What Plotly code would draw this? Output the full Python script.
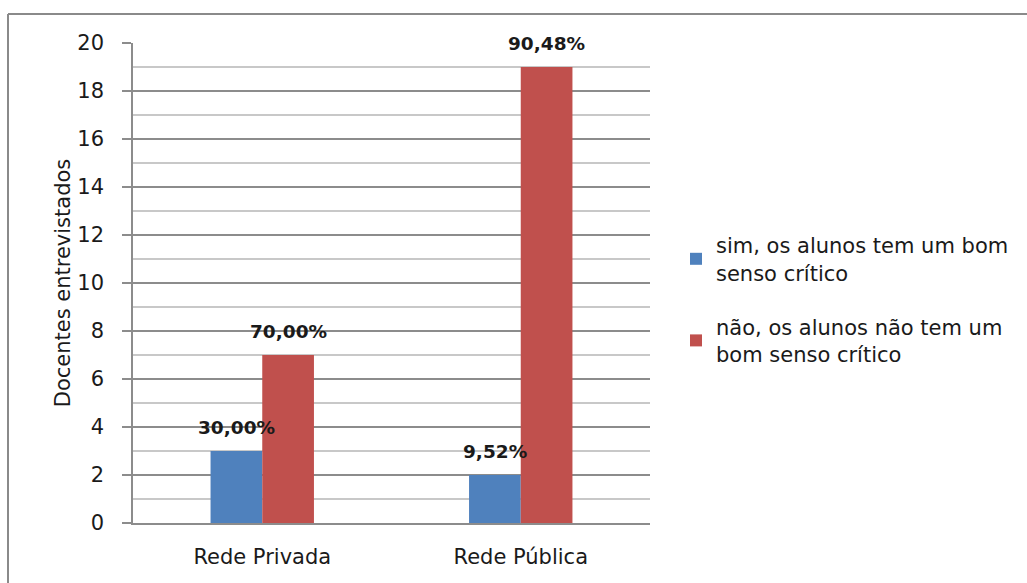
import plotly.graph_objects as go

# Survey of teachers: do students have good critical sense?
categories = ["Rede Privada", "Rede Pública"]
series_names = [
    "sim, os alunos tem um bom<br>senso crítico",
    "não, os alunos não tem um<br>bom senso crítico",
]
sim_values = [3, 2]
nao_values = [7, 19]
sim_labels = ["30,00%", "9,52%"]
nao_labels = ["70,00%", "90,48%"]
y_ticks = [0, 2, 4, 6, 8, 10, 12, 14, 16, 18, 20]

BLUE = "#4F81BD"
RED = "#C0504D"
FONT = "'DejaVu Sans', Verdana, sans-serif"
TEXT = "#1a1a1a"

# plot-area geometry in pixels (used for the frame around the chart)
W, H = 1027, 583
L, R, T, B = 133, 650, 43, 523
pw, ph = R - L, B - T


def px_x(px):
    return (px - L) / pw


def px_y(py):
    return (B - py) / ph


fig = go.Figure()
fig.add_trace(go.Bar(x=categories, y=sim_values, name=series_names[0],
                     legendgroup="sim",
                     marker=dict(color=BLUE, line=dict(width=0))))
fig.add_trace(go.Bar(x=categories, y=nao_values, name=series_names[1],
                     legendgroup="nao",
                     marker=dict(color=RED, line=dict(width=0))))

# percentage labels centred above each bar
annotations = []
cat_px = pw / len(categories)
for vals, labs, side in ((sim_values, sim_labels, -1), (nao_values, nao_labels, 1)):
    for c, v, t in zip(categories, vals, labs):
        annotations.append(dict(
            x=c, y=v, text=f"<b>{t}</b>", showarrow=False,
            xshift=side * 0.1 * cat_px, yshift=24,
            yanchor="middle", xanchor="center",
            font=dict(family=FONT, size=18.5, color=TEXT),
        ))

# outer frame: top and left edges
shapes = [
    dict(type="line", xref="paper", yref="paper",
         x0=px_x(8), x1=px_x(W + 5), y0=px_y(14), y1=px_y(14),
         line=dict(color="#8a8a8a", width=2)),
    dict(type="line", xref="paper", yref="paper",
         x0=px_x(8), x1=px_x(8), y0=px_y(14), y1=px_y(H + 5),
         line=dict(color="#8a8a8a", width=2)),
]

fig.update_layout(
    width=W, height=H,
    margin=dict(l=L, r=W - R, t=T, b=H - B, autoexpand=False),
    paper_bgcolor="white", plot_bgcolor="white",
    barmode="group", bargap=0.6, bargroupgap=0,
    font=dict(family=FONT, size=21, color=TEXT),
    showlegend=True,
    legend=dict(
        x=px_x(676), y=px_y(225), xanchor="left", yanchor="top",
        font=dict(family=FONT, size=21, color=TEXT),
        traceorder="grouped", tracegroupgap=24, itemwidth=30,
        bgcolor="rgba(0,0,0,0)",
    ),
    annotations=annotations,
    shapes=shapes,
)

fig.update_yaxes(
    range=[0, 20], tickvals=y_ticks, ticktext=[str(v) for v in y_ticks],
    showgrid=True, gridcolor="#8c8c8c", gridwidth=1.5,
    showline=True, linecolor="#8c8c8c", linewidth=1.5,
    ticks="outside", ticklen=9, tickcolor="#8c8c8c", tickwidth=1.5,
    ticklabelstandoff=14,
    minor=dict(dtick=1, showgrid=True, gridcolor="#c8c8c8", gridwidth=1.5, ticks=""),
    zeroline=False,
    tickfont=dict(family=FONT, size=21, color=TEXT),
    title=dict(text="Docentes entrevistados", standoff=1,
               font=dict(family=FONT, size=21, color=TEXT)),
    fixedrange=True,
)
fig.update_xaxes(
    showline=True, linecolor="#8c8c8c", linewidth=1.5,
    showgrid=False, ticks="",
    ticklabelstandoff=14,
    tickfont=dict(family=FONT, size=21, color=TEXT),
    fixedrange=True,
)

fig.write_html("out.html", config=dict(displayModeBar=False))
